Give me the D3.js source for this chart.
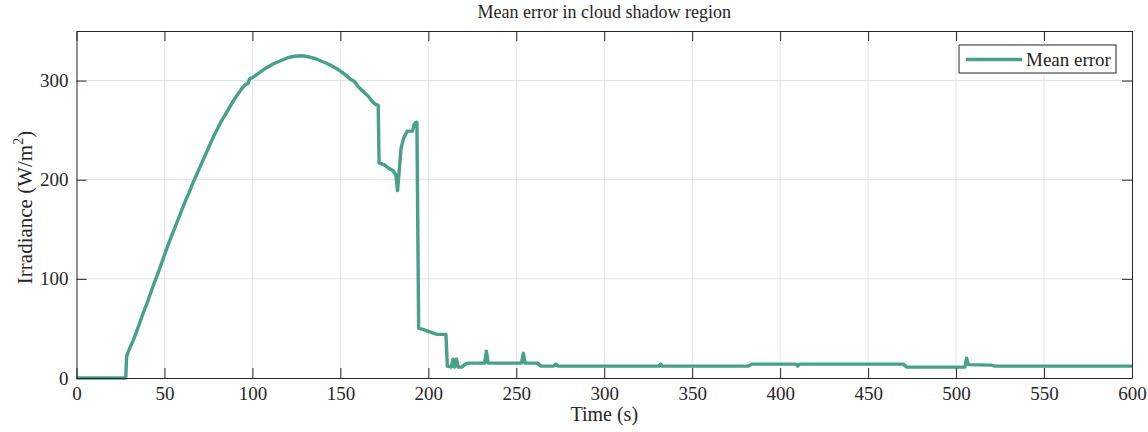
<!DOCTYPE html>
<html>
<head>
<meta charset="utf-8">
<script src="https://cdn.jsdelivr.net/npm/d3@7"></script>
<style>
  body { margin: 0; background: #fff; }
  svg text { font-family: "Liberation Serif", "Times New Roman", serif; fill: #262626; }
</style>
</head>
<body>
<svg id="chart" width="1148" height="432"></svg>
<script>
// time (s) and mean error (W/m^2)
const times = [0, 28, 28.5, 30, 32, 34, 36, 38, 40, 42, 44, 46, 48, 50, 52, 54, 56, 58, 60, 62, 64,
  66, 68, 70, 72, 74, 76, 78, 80, 82, 84, 86, 88, 90, 92, 94, 96, 97.5, 98.5, 100, 104, 108, 112, 116,
  120, 124, 128, 132, 136, 140, 144, 148, 152, 156, 158, 160, 163, 166, 168, 170, 171.5, 172,
  175, 177, 180, 181.5, 182.5, 183.5, 184.5, 186, 188, 191, 192, 193, 193.5, 194.5, 197, 200,
  205, 210, 210.8, 213, 214, 215, 216, 217, 219, 221, 223, 232, 233, 234, 253, 254, 255, 262,
  264, 271, 272.5, 274, 331, 332, 333, 382, 384, 409, 410, 411, 470, 472, 505, 506, 507, 520,
  522, 600];
const meanError = [0, 0, 22, 29, 37, 46, 56, 66, 75, 85, 95, 104, 114, 124, 134, 143, 152, 161, 170,
  179, 187, 196, 204, 212, 220, 228, 236, 244, 251, 258, 264, 270, 276, 282, 287, 292, 296, 297, 302,
  303, 308, 313, 317, 320, 323, 324.5, 325, 324, 322, 319, 316, 312, 307, 301, 299, 294, 289,
  284, 279, 276, 275, 217, 215, 212, 209, 205, 189, 210, 232, 242, 249, 249, 256, 258, 258, 50,
  49, 47, 44, 44, 12, 11, 19, 11, 19, 11, 11, 14, 15, 15, 27, 15, 15, 25, 15, 15, 12, 12, 14,
  12, 12, 14, 12, 12, 14, 14, 12, 14, 14, 11, 11, 20, 13.5, 13, 12, 12];

const xTicks = [0, 50, 100, 150, 200, 250, 300, 350, 400, 450, 500, 550, 600];
const yTicks = [0, 100, 200, 300];

const margin = { left: 76.5, right: 16, top: 31, bottom: 54 };
const width = 1148, height = 432;
const lineColor = '#48a08a';
const serif = '"Liberation Serif", "Times New Roman", serif';

const svg = d3.select('#chart');

const x = d3.scaleLinear().domain([0, 600]).range([margin.left, width - margin.right]);
const y = d3.scaleLinear().domain([0, 350]).range([height - margin.bottom, margin.top]);

// grid
svg.append('g').selectAll('line')
  .data(xTicks.slice(1, -1))
  .enter().append('line')
  .attr('x1', d => x(d)).attr('x2', d => x(d))
  .attr('y1', y(0)).attr('y2', y(350))
  .attr('stroke', '#e3e3e3').attr('stroke-width', 1);

svg.append('g').selectAll('line')
  .data(yTicks.slice(1))
  .enter().append('line')
  .attr('x1', x(0)).attr('x2', x(600))
  .attr('y1', d => y(d)).attr('y2', d => y(d))
  .attr('stroke', '#e3e3e3').attr('stroke-width', 1);

// data line
const pts = times.map((t, i) => [t, meanError[i]]);
svg.append('path')
  .datum(pts)
  .attr('fill', 'none')
  .attr('stroke', lineColor)
  .attr('stroke-width', 3.4)
  .attr('stroke-linejoin', 'round')
  .attr('d', d3.line().x(d => x(d[0])).y(d => y(d[1])));

// axes (ticks inward, box on)
const tickLen = 10;
const axisColor = '#262626';

const axBottom = svg.append('g')
  .attr('transform', `translate(0,${y(0)})`)
  .call(d3.axisBottom(x).tickValues(xTicks).tickSizeInner(-tickLen).tickSizeOuter(0));
const axTop = svg.append('g')
  .attr('transform', `translate(0,${y(350)})`)
  .call(d3.axisTop(x).tickValues(xTicks).tickSizeInner(-tickLen).tickSizeOuter(0).tickFormat(''));
const axLeft = svg.append('g')
  .attr('transform', `translate(${x(0)},0)`)
  .call(d3.axisLeft(y).tickValues(yTicks).tickSizeInner(-tickLen).tickSizeOuter(0).tickPadding(8));
const axRight = svg.append('g')
  .attr('transform', `translate(${x(600)},0)`)
  .call(d3.axisRight(y).tickValues(yTicks).tickSizeInner(-tickLen).tickSizeOuter(0).tickFormat(''));

[axBottom, axTop, axLeft, axRight].forEach(g => {
  g.attr('font-family', null);
  g.select('.domain').attr('stroke', axisColor).attr('stroke-width', 1);
  g.selectAll('.tick line').attr('stroke', axisColor).attr('stroke-width', 1);
  g.selectAll('.tick text')
    .style('font-family', serif)
    .attr('font-size', 19)
    .attr('fill', axisColor);
});
axBottom.selectAll('.tick text').attr('y', 22).attr('dy', 0);

// title and labels
svg.append('text')
  .attr('x', (x(0) + x(600)) / 2).attr('y', 18)
  .attr('text-anchor', 'middle')
  .attr('font-size', 18)
  .text('Mean error in cloud shadow region');

svg.append('text')
  .attr('x', (x(0) + x(600)) / 2).attr('y', 421)
  .attr('text-anchor', 'middle')
  .attr('font-size', 20)
  .text('Time (s)');

const ylab = svg.append('text')
  .attr('transform', `translate(32,${(y(0) + y(350)) / 2 + 3}) rotate(-90)`)
  .attr('text-anchor', 'middle')
  .attr('font-size', 21);
ylab.append('tspan').text('Irradiance (W/m');
ylab.append('tspan').attr('dy', -9).attr('font-size', 14).text('2');
ylab.append('tspan').attr('dy', 9).text(')');

// legend
const lg = svg.append('g').attr('transform', 'translate(959,45)');
lg.append('rect')
  .attr('width', 157).attr('height', 28)
  .attr('fill', '#fff').attr('stroke', axisColor).attr('stroke-width', 1);
lg.append('line')
  .attr('x1', 7).attr('x2', 63).attr('y1', 14.5).attr('y2', 14.5)
  .attr('stroke', lineColor).attr('stroke-width', 3.4);
lg.append('text')
  .attr('x', 67).attr('y', 21)
  .attr('font-size', 19)
  .text('Mean error');
</script>
</body>
</html>
